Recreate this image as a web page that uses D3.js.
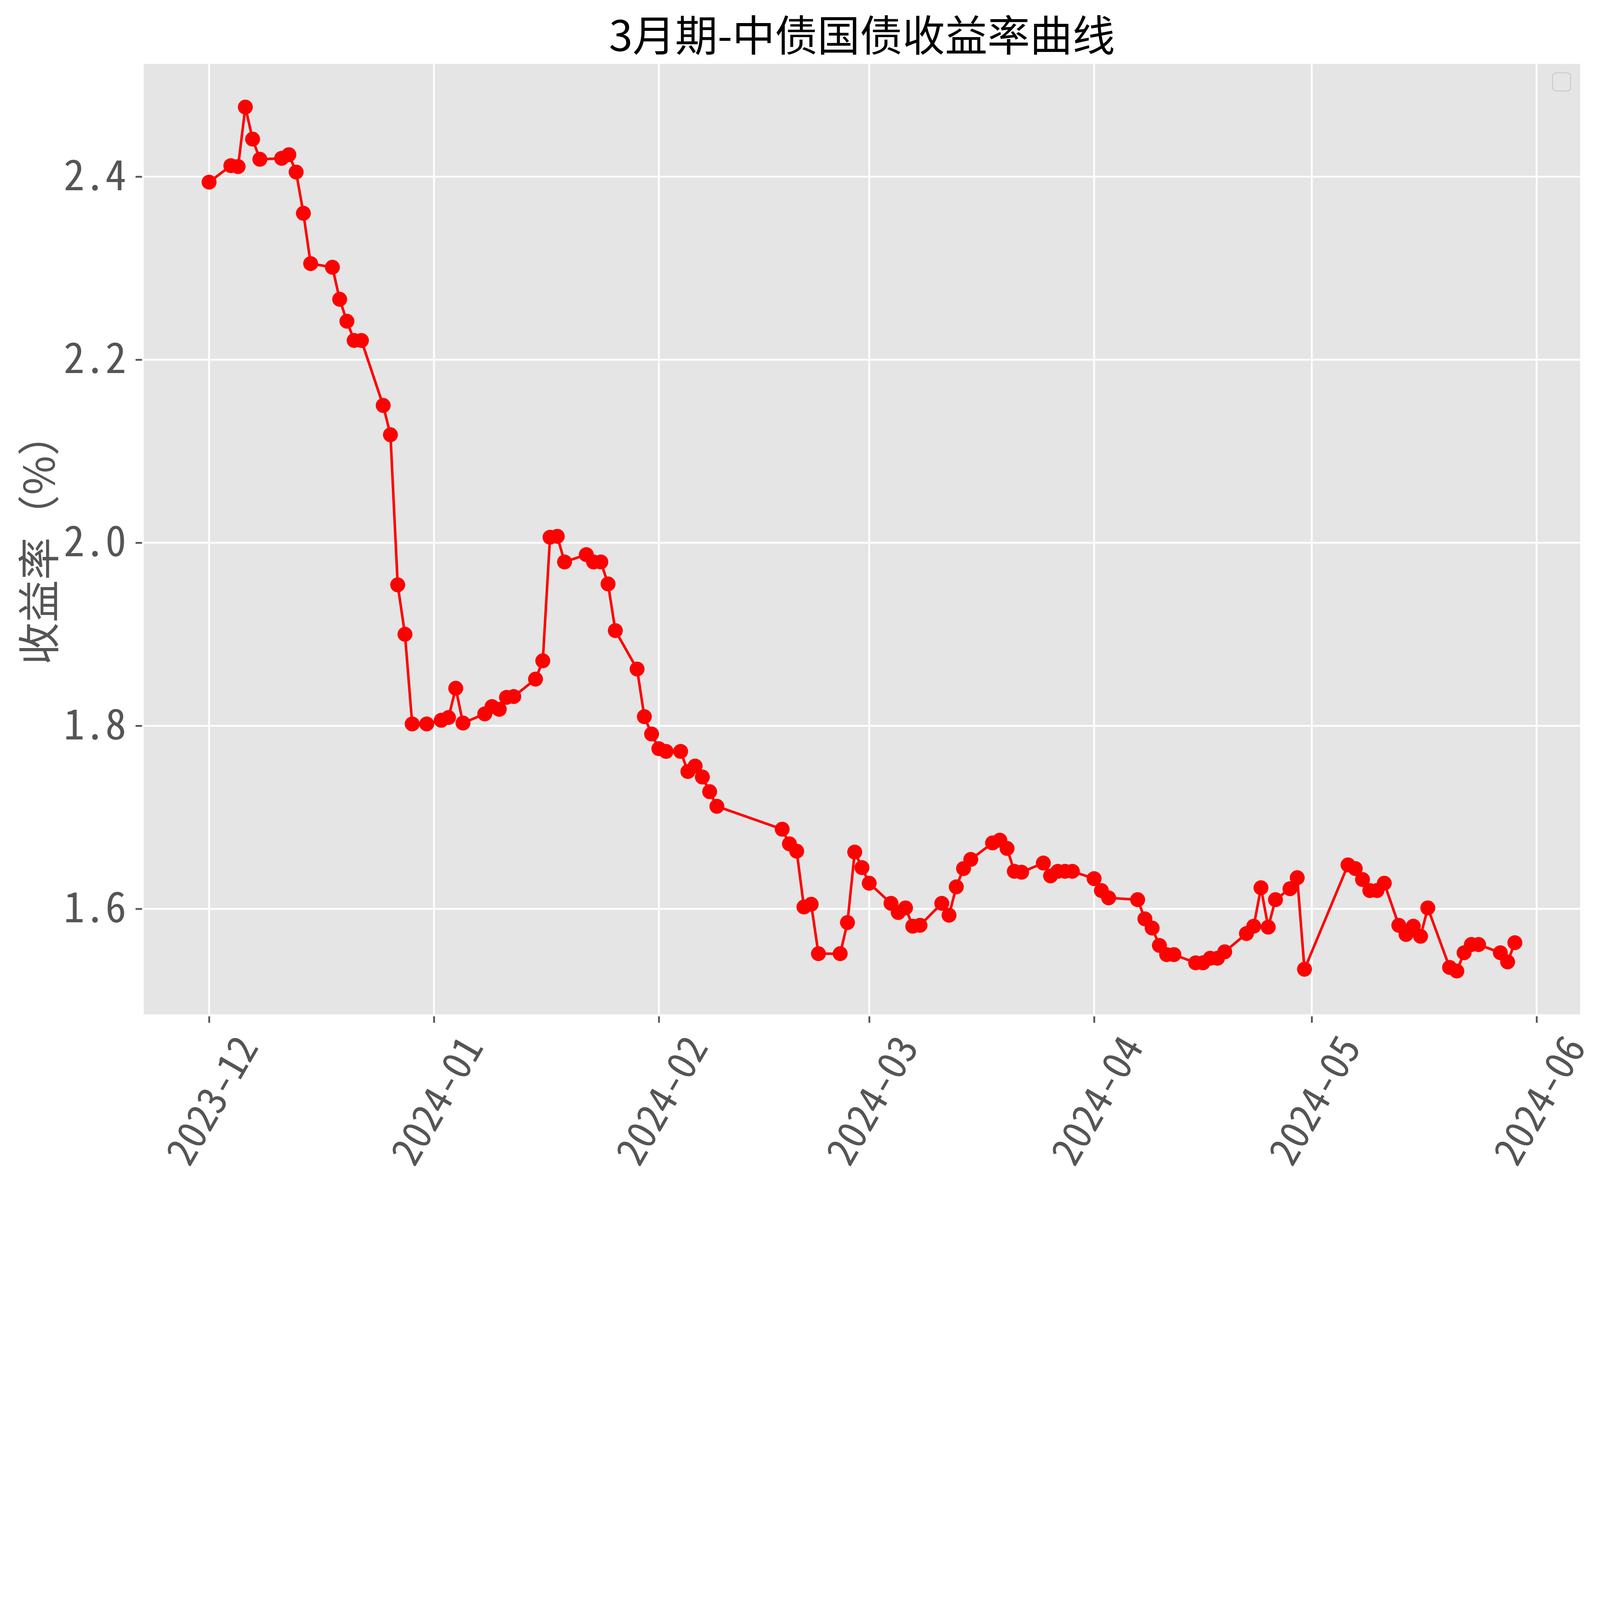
<!DOCTYPE html>
<html>
<head>
<meta charset="utf-8">
<script src="https://cdn.jsdelivr.net/npm/d3@7"></script>
<style>
html,body{margin:0;padding:0;background:#fff;overflow:hidden;width:100%;height:100%;}
svg{display:block;}
text{font-family:"Noto Sans CJK SC","Noto Sans",sans-serif;}
</style>
</head>
<body>
<script>
var canvaswidth=6209;
var canvasheight=4573;

// data
var dates=["2023-12-01","2023-12-04","2023-12-05","2023-12-06","2023-12-07","2023-12-08","2023-12-11","2023-12-12","2023-12-13","2023-12-14",
"2023-12-15","2023-12-18","2023-12-19","2023-12-20","2023-12-21","2023-12-22","2023-12-25","2023-12-26","2023-12-27","2023-12-28",
"2023-12-29","2023-12-31","2024-01-02","2024-01-03","2024-01-04","2024-01-05","2024-01-08","2024-01-09","2024-01-10","2024-01-11",
"2024-01-12","2024-01-15","2024-01-16","2024-01-17","2024-01-18","2024-01-19","2024-01-22","2024-01-23","2024-01-24","2024-01-25",
"2024-01-26","2024-01-29","2024-01-30","2024-01-31","2024-02-01","2024-02-02","2024-02-04","2024-02-05","2024-02-06","2024-02-07",
"2024-02-08","2024-02-09","2024-02-18","2024-02-19","2024-02-20","2024-02-21","2024-02-22","2024-02-23","2024-02-26","2024-02-27",
"2024-02-28","2024-02-29","2024-03-01","2024-03-04","2024-03-05","2024-03-06","2024-03-07","2024-03-08","2024-03-11","2024-03-12",
"2024-03-13","2024-03-14","2024-03-15","2024-03-18","2024-03-19","2024-03-20","2024-03-21","2024-03-22","2024-03-25","2024-03-26",
"2024-03-27","2024-03-28","2024-03-29","2024-04-01","2024-04-02","2024-04-03","2024-04-07","2024-04-08","2024-04-09","2024-04-10",
"2024-04-11","2024-04-12","2024-04-15","2024-04-16","2024-04-17","2024-04-18","2024-04-19","2024-04-22","2024-04-23","2024-04-24",
"2024-04-25","2024-04-26","2024-04-28","2024-04-29","2024-04-30","2024-05-06","2024-05-07","2024-05-08","2024-05-09","2024-05-10",
"2024-05-11","2024-05-13","2024-05-14","2024-05-15","2024-05-16","2024-05-17","2024-05-20","2024-05-21","2024-05-22","2024-05-23",
"2024-05-24","2024-05-27","2024-05-28","2024-05-29"];
var yields=[2.394,2.412,2.411,2.476,2.441,2.419,2.420,2.424,2.405,2.360,
2.305,2.301,2.266,2.242,2.221,2.221,2.150,2.118,1.954,1.900,
1.802,1.802,1.806,1.809,1.841,1.803,1.813,1.821,1.818,1.831,
1.832,1.851,1.871,2.006,2.007,1.979,1.987,1.979,1.979,1.955,
1.904,1.862,1.810,1.791,1.775,1.772,1.772,1.750,1.756,1.744,
1.728,1.712,1.687,1.671,1.663,1.602,1.605,1.551,1.551,1.585,
1.662,1.645,1.628,1.606,1.596,1.601,1.581,1.582,1.606,1.593,
1.624,1.644,1.654,1.672,1.675,1.666,1.641,1.640,1.650,1.636,
1.641,1.641,1.641,1.633,1.620,1.612,1.610,1.589,1.579,1.560,
1.550,1.550,1.541,1.541,1.546,1.546,1.553,1.573,1.581,1.623,
1.580,1.610,1.622,1.634,1.534,1.648,1.644,1.632,1.620,1.620,
1.628,1.582,1.572,1.581,1.570,1.601,1.536,1.532,1.552,1.561,
1.561,1.552,1.542,1.563];
var xTickLabels=["2023-12","2024-01","2024-02","2024-03","2024-04","2024-05","2024-06"];
var yTicks=[1.6,1.8,2.0,2.2,2.4];
var titleText="3月期-中债国债收益率曲线";
var yLabelText="收益率（%）";

var parse=d3.timeParse("%Y-%m-%d");
var pts=dates.map(function(d,i){return {date:parse(d),v:yields[i]};});

var plotLeft=558, plotRight=6132, plotTop=248, plotBottom=3936;

// matplotlib style 5% margins
var dext=d3.extent(pts,function(d){return d.date;});
var dpad=(dext[1]-dext[0])*0.05;
var x=d3.scaleTime().domain([new Date(+dext[0]-dpad),new Date(+dext[1]+dpad)]).range([plotLeft,plotRight]);
var vext=d3.extent(yields);
var vpad=(vext[1]-vext[0])*0.05;
var y=d3.scaleLinear().domain([vext[0]-vpad,vext[1]+vpad]).range([plotBottom,plotTop]);

var xTicks=xTickLabels.map(function(s){return d3.timeParse("%Y-%m")(s);});

// viewBox so the whole figure fits whatever viewport the page gets
var svg=d3.select("body").append("svg")
	.attr("viewBox","0 0 "+canvaswidth+" "+canvasheight)
	.attr("preserveAspectRatio","xMidYMin meet")
	.style("width","100vw").style("height","100vh");
svg.append("rect").attr("width",canvaswidth).attr("height",canvasheight).attr("fill","#ffffff");
svg.append("rect").attr("x",plotLeft).attr("y",plotTop).attr("width",plotRight-plotLeft).attr("height",plotBottom-plotTop).attr("fill","#E5E5E5"); //plot background

// grid
svg.append("g").selectAll("line").data(xTicks).enter().append("line")
	.attr("x1",function(d){return x(d);}).attr("x2",function(d){return x(d);}).attr("y1",plotTop).attr("y2",plotBottom)
	.attr("stroke","#ffffff").attr("stroke-width",7);
svg.append("g").selectAll("line").data(yTicks).enter().append("line")
	.attr("y1",function(d){return y(d);}).attr("y2",function(d){return y(d);}).attr("x1",plotLeft).attr("x2",plotRight)
	.attr("stroke","#ffffff").attr("stroke-width",7);

// y axis
var yAxis=svg.append("g").attr("transform","translate("+(plotLeft-7)+",0)")
	.call(d3.axisLeft(y).tickValues(yTicks).tickSize(25).tickPadding(36).tickFormat(d3.format(".1f")));
yAxis.select(".domain").remove();
yAxis.selectAll("line").attr("stroke","#555555").attr("stroke-width",7);
yAxis.selectAll("text").attr("fill","#555555").attr("font-size",162)
	.style("font-family","'Noto Sans CJK SC'").style("font-feature-settings","'hwid' 1");

// x axis
var xAxis=svg.append("g").attr("transform","translate(0,"+(plotBottom+8)+")")
	.call(d3.axisBottom(x).tickValues(xTicks).tickSize(25).tickFormat(d3.timeFormat("%Y-%m")));
xAxis.select(".domain").remove();
xAxis.selectAll("line").attr("stroke","#555555").attr("stroke-width",7);
var fs=155, ang=60*Math.PI/180;
xAxis.selectAll("text").attr("fill","#555555").attr("font-size",fs)
	.style("font-family","'Noto Sans CJK SC'").style("font-feature-settings","'hwid' 1")
	.attr("y",0).attr("dy",null).attr("text-anchor","middle").attr("dominant-baseline","central")
	.attr("transform",function(){
		var L=this.getComputedTextLength();
		var H=fs*0.75;
		var bh=L*Math.sin(ang)+H*Math.cos(ang);
		var cy=(4000-(plotBottom+8))+bh/2;
		return "translate(0,"+cy+") rotate(-60)";
	});

// line and markers
var line=d3.line().x(function(d){return x(d.date);}).y(function(d){return y(d.v);});
svg.append("path").datum(pts).attr("d",line).attr("fill","none").attr("stroke","#FF0000").attr("stroke-width",10).attr("stroke-linejoin","round");
svg.append("g").selectAll("circle").data(pts).enter().append("circle")
	.attr("cx",function(d){return x(d.date);}).attr("cy",function(d){return y(d.v);}).attr("r",29).attr("fill","#FF0000");

// empty legend box
svg.append("rect").attr("x",6025).attr("y",283).attr("width",70).attr("height",70).attr("rx",14)
	.attr("fill","#E5E5E5").attr("stroke","#CCCCCC").attr("stroke-width",4);

// title and label
svg.append("text").attr("x",(plotLeft+plotRight)/2).attr("y",198).attr("text-anchor","middle").attr("font-size",165).attr("fill","#000000").text(titleText);
svg.append("text").attr("transform","translate(140,"+((plotTop+plotBottom)/2)+") rotate(-90)").attr("text-anchor","middle").attr("dominant-baseline","central")
	.attr("font-size",165).attr("fill","#555555").text(yLabelText);
</script>
</body>
</html>
